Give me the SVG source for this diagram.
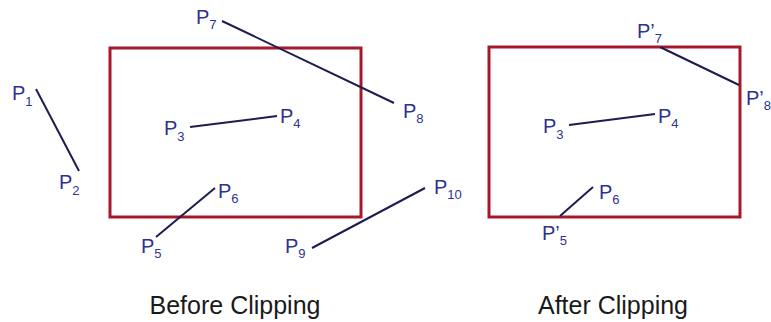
<svg xmlns="http://www.w3.org/2000/svg" width="771" height="322" viewBox="0 0 771 322">
<style>
.win{fill:none;stroke:#a8182c;stroke-width:3}
.seg{stroke:#1c1c52;stroke-width:2;fill:none}
.lbl{font-family:"Liberation Sans",Arial,sans-serif;font-size:20px;fill:#2e3192}
.sub{font-size:13px}
.cap{font-family:"Liberation Sans",Arial,sans-serif;font-size:25px;fill:#1a1a1a;text-anchor:middle}
</style>
<rect width="771" height="322" fill="#fff"/>
<g id="before-window"><rect class="win" x="110" y="48" width="251" height="169"/></g>
<g id="after-window"><rect class="win" x="489" y="47" width="251" height="170"/></g>
<g id="connectors">
<line class="seg" x1="36" y1="89" x2="79" y2="171"/>
<line class="seg" x1="190" y1="127" x2="277" y2="116"/>
<line class="seg" x1="222" y1="21" x2="394" y2="103"/>
<line class="seg" x1="156" y1="237" x2="215" y2="188"/>
<line class="seg" x1="312" y1="248" x2="425" y2="188"/>
<line class="seg" x1="660" y1="47" x2="739" y2="85"/>
<line class="seg" x1="569" y1="125" x2="655" y2="114"/>
<line class="seg" x1="560" y1="216" x2="593" y2="187"/>
</g>
<g id="p1"><text class="lbl" x="12" y="100">P<tspan class="sub" dy="6">1</tspan></text></g>
<g id="p2"><text class="lbl" x="59" y="189">P<tspan class="sub" dy="6">2</tspan></text></g>
<g id="p3"><text class="lbl" x="164" y="135">P<tspan class="sub" dy="6">3</tspan></text></g>
<g id="p4"><text class="lbl" x="280" y="123">P<tspan class="sub" dy="5">4</tspan></text></g>
<g id="p7"><text class="lbl" x="196" y="24">P<tspan class="sub" dy="5">7</tspan></text></g>
<g id="p8"><text class="lbl" x="403" y="118">P<tspan class="sub" dy="5">8</tspan></text></g>
<g id="p5"><text class="lbl" x="141" y="253">P<tspan class="sub" dy="5">5</tspan></text></g>
<g id="p6"><text class="lbl" x="218" y="198">P<tspan class="sub" dy="5">6</tspan></text></g>
<g id="p9"><text class="lbl" x="285" y="253">P<tspan class="sub" dy="5">9</tspan></text></g>
<g id="p10"><text class="lbl" x="434" y="194">P<tspan class="sub" dy="5">10</tspan></text></g>
<g id="p7c"><text class="lbl" x="637" y="38">P’<tspan class="sub" dy="5">7</tspan></text></g>
<g id="p8c"><text class="lbl" x="746" y="105">P’<tspan class="sub" dy="5">8</tspan></text></g>
<g id="p3r"><text class="lbl" x="543" y="133">P<tspan class="sub" dy="6">3</tspan></text></g>
<g id="p4r"><text class="lbl" x="658" y="123">P<tspan class="sub" dy="5">4</tspan></text></g>
<g id="p5c"><text class="lbl" x="542" y="240">P’<tspan class="sub" dy="5">5</tspan></text></g>
<g id="p6r"><text class="lbl" x="599" y="199">P<tspan class="sub" dy="5">6</tspan></text></g>
<g id="cap-before"><text class="cap" x="235" y="314">Before Clipping</text></g>
<g id="cap-after"><text class="cap" x="613" y="314">After Clipping</text></g>
</svg>
